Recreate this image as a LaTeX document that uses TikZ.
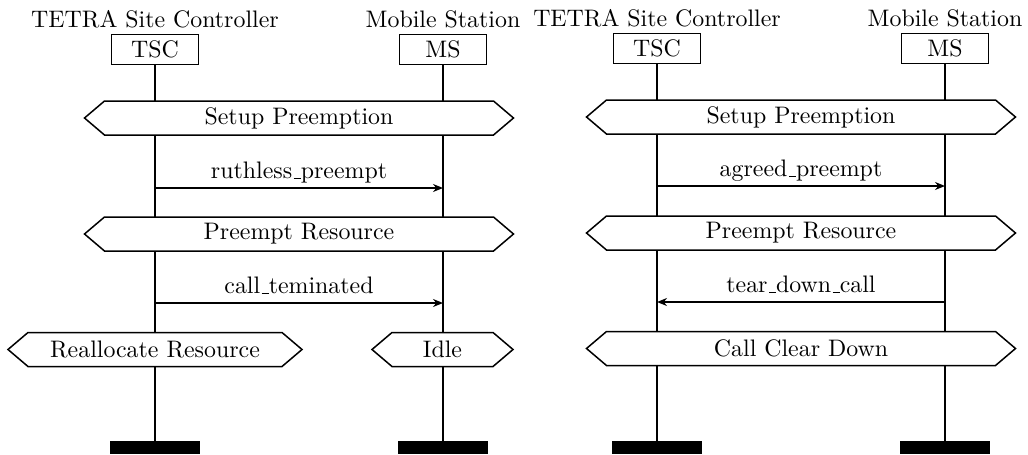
\documentclass[tikz,border=0pt]{standalone}
\usetikzlibrary{arrows.meta}
% classic low-line used in the message names
\newcommand{\ubar}{\leavevmode\kern.06em\vbox{\hrule width.3em}}
% hexagonal outline of a condition node
\newcommand{\hexborder}[1]{%
  \draw (#1.west) -- ([xshift=8pt]#1.north west) -- ([xshift=-8pt]#1.north east)
    -- (#1.east) -- ([xshift=-8pt]#1.south east) -- ([xshift=8pt]#1.south west) -- cycle;}
\begin{document}
\begin{tikzpicture}[
  x=0.4pt, y=-0.4pt, line width=0.6pt,
  every node/.style={font=\fontsize{9.55pt}{11pt}\selectfont},
  inst/.style={draw, minimum width=34.8pt, minimum height=12pt, inner sep=0pt, outer sep=0pt},
  title/.style={anchor=base, inner sep=0pt},
  endbar/.style={fill=black, minimum width=36pt, minimum height=5.2pt, inner sep=0pt, outer sep=0pt},
  cond/.style={fill=white, minimum height=13.6pt, inner sep=0pt, outer sep=0pt},
  msg/.style={-{Stealth[length=4pt,width=3.2pt,inset=1.3pt]}},
  lbl/.style={anchor=base, yshift=3.8pt, inner sep=0pt},
]
\useasboundingbox (0,0) rectangle (1028,454);

% ---------- ruthless preemption ----------
\node[title] (tA) at (155,27) {TETRA Site Controller};
\node[inst] (tscA) at (155,49.5) {TSC};
\node[title] (mA) at (443,27) {Mobile Station};
\node[inst] (msA) at (443,49.5) {MS};
\node[endbar] (etA) at (155,447.5) {};
\node[endbar] (emA) at (443,447.5) {};
\draw (tscA) -- (etA);
\draw (msA) -- (emA);

\node[cond, minimum width=171.6pt] (c1A) at (299,118) {Setup Preemption};
\hexborder{c1A}
\coordinate (s1A) at (155,188);
\coordinate (r1A) at (443,188);
\draw[msg] (s1A) -- node[lbl] {ruthless\ubar preempt} (r1A);

\node[cond, minimum width=171.6pt] (c2A) at (299,234) {Preempt Resource};
\hexborder{c2A}
\coordinate (s2A) at (155,303);
\coordinate (r2A) at (443,303);
\draw[msg] (s2A) -- node[lbl] {call\ubar teminated} (r2A);

\node[cond, minimum width=117.6pt] (c3A) at (155,349.5) {Reallocate Resource};
\hexborder{c3A}
\node[cond, minimum width=56.4pt] (c4A) at (442.5,349.5) {Idle};
\hexborder{c4A}

% ---------- agreed preemption ----------
\begin{scope}[xshift=200.8pt, yshift=0.4pt]
\node[title] (tB) at (155,27) {TETRA Site Controller};
\node[inst] (tscB) at (155,49.5) {TSC};
\node[title] (mB) at (443,27) {Mobile Station};
\node[inst] (msB) at (443,49.5) {MS};
\node[endbar] (etB) at (155,448.5) {};
\node[endbar] (emB) at (443,448.5) {};
\draw (tscB) -- (etB);
\draw (msB) -- (emB);

\node[cond, minimum width=171.6pt] (c1B) at (299,118) {Setup Preemption};
\hexborder{c1B}
\coordinate (s1B) at (155,187);
\coordinate (r1B) at (443,187);
\draw[msg] (s1B) -- node[lbl] {agreed\ubar preempt} (r1B);

\node[cond, minimum width=171.6pt] (c2B) at (299,234) {Preempt Resource};
\hexborder{c2B}
\coordinate (s2B) at (443,303);
\coordinate (r2B) at (155,303);
\draw[msg] (s2B) -- node[lbl] {tear\ubar down\ubar call} (r2B);

\node[cond, minimum width=171.6pt] (c3B) at (299,349.5) {Call Clear Down};
\hexborder{c3B}
\end{scope}
\end{tikzpicture}
\end{document}
